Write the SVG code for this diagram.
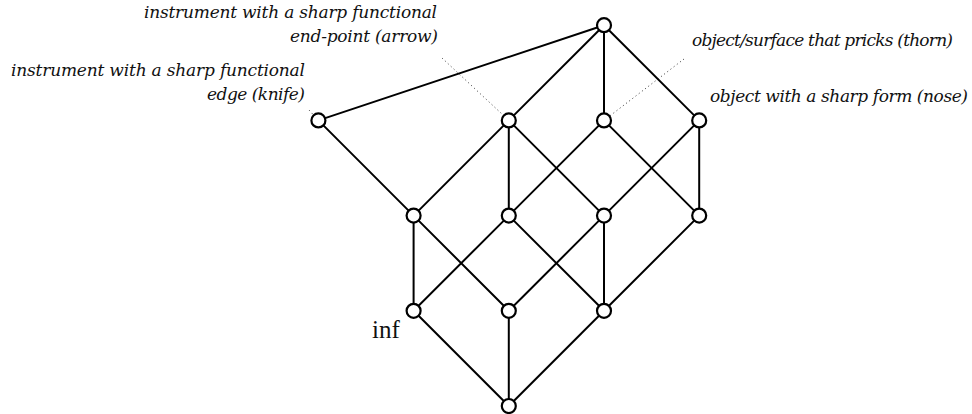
<svg xmlns="http://www.w3.org/2000/svg" width="972" height="414" viewBox="0 0 972 414">
<style>
.e{stroke:#000;stroke-width:2;fill:none;stroke-linecap:round}
.d{stroke:#333;stroke-width:1;stroke-dasharray:1 3;fill:none}
.n{fill:#fff;stroke:#000;stroke-width:2.2}
.l{font-family:"DejaVu Serif","Liberation Serif",serif;font-style:italic;font-size:17px;fill:#111}
.u{font-family:"Liberation Serif","Times New Roman",serif;font-size:25px;fill:#111}
</style>
<rect width="972" height="414" fill="#fff"/>
<g id="connectors">
<line class="e" x1="604" y1="25.2" x2="318.4" y2="120.4"/>
<line class="e" x1="604" y1="25.2" x2="508.8" y2="120.4"/>
<line class="e" x1="604" y1="25.2" x2="604" y2="120.4"/>
<line class="e" x1="604" y1="25.2" x2="699.2" y2="120.4"/>
<line class="e" x1="318.4" y1="120.4" x2="413.6" y2="215.6"/>
<line class="e" x1="508.8" y1="120.4" x2="413.6" y2="215.6"/>
<line class="e" x1="508.8" y1="120.4" x2="508.8" y2="215.6"/>
<line class="e" x1="508.8" y1="120.4" x2="604" y2="215.6"/>
<line class="e" x1="604" y1="120.4" x2="508.8" y2="215.6"/>
<line class="e" x1="604" y1="120.4" x2="699.2" y2="215.6"/>
<line class="e" x1="699.2" y1="120.4" x2="604" y2="215.6"/>
<line class="e" x1="699.2" y1="120.4" x2="699.2" y2="215.6"/>
<line class="e" x1="413.6" y1="215.6" x2="413.6" y2="310.8"/>
<line class="e" x1="413.6" y1="215.6" x2="508.8" y2="310.8"/>
<line class="e" x1="508.8" y1="215.6" x2="413.6" y2="310.8"/>
<line class="e" x1="508.8" y1="215.6" x2="604" y2="310.8"/>
<line class="e" x1="604" y1="215.6" x2="508.8" y2="310.8"/>
<line class="e" x1="604" y1="215.6" x2="604" y2="310.8"/>
<line class="e" x1="699.2" y1="215.6" x2="604" y2="310.8"/>
<line class="e" x1="413.6" y1="310.8" x2="508.8" y2="406"/>
<line class="e" x1="508.8" y1="310.8" x2="508.8" y2="406"/>
<line class="e" x1="604" y1="310.8" x2="508.8" y2="406"/>
<line class="d" x1="309" y1="110" x2="318.4" y2="120.4"/>
<line class="d" x1="442" y1="58" x2="508.8" y2="120.4"/>
<line class="d" x1="684" y1="59" x2="604" y2="120.4"/>
</g>
<g id="top"><circle class="n" cx="604" cy="25.2" r="7"/></g>
<g id="knife"><circle class="n" cx="318.4" cy="120.4" r="7"/>
<text class="l" x="305" y="76" text-anchor="end" textLength="294">instrument with a sharp functional</text>
<text class="l" x="305" y="100" text-anchor="end" textLength="98">edge (knife)</text></g>
<g id="arrow"><circle class="n" cx="508.8" cy="120.4" r="7"/>
<text class="l" x="437" y="18" text-anchor="end" textLength="293">instrument with a sharp functional</text>
<text class="l" x="438" y="42" text-anchor="end" textLength="148">end-point (arrow)</text></g>
<g id="thorn"><circle class="n" cx="604" cy="120.4" r="7"/>
<text class="l" x="692" y="46" textLength="261">object/surface that pricks (thorn)</text></g>
<g id="nose"><circle class="n" cx="699.2" cy="120.4" r="7"/>
<text class="l" x="710" y="102" textLength="258">object with a sharp form (nose)</text></g>
<g id="m1"><circle class="n" cx="413.6" cy="215.6" r="7"/></g>
<g id="m2"><circle class="n" cx="508.8" cy="215.6" r="7"/></g>
<g id="m3"><circle class="n" cx="604" cy="215.6" r="7"/></g>
<g id="m4"><circle class="n" cx="699.2" cy="215.6" r="7"/></g>
<g id="inf"><circle class="n" cx="413.6" cy="310.8" r="7"/>
<text class="u" x="372" y="338">inf</text></g>
<g id="b2"><circle class="n" cx="508.8" cy="310.8" r="7"/></g>
<g id="b3"><circle class="n" cx="604" cy="310.8" r="7"/></g>
<g id="bottom"><circle class="n" cx="508.8" cy="406" r="7"/></g>
</svg>
